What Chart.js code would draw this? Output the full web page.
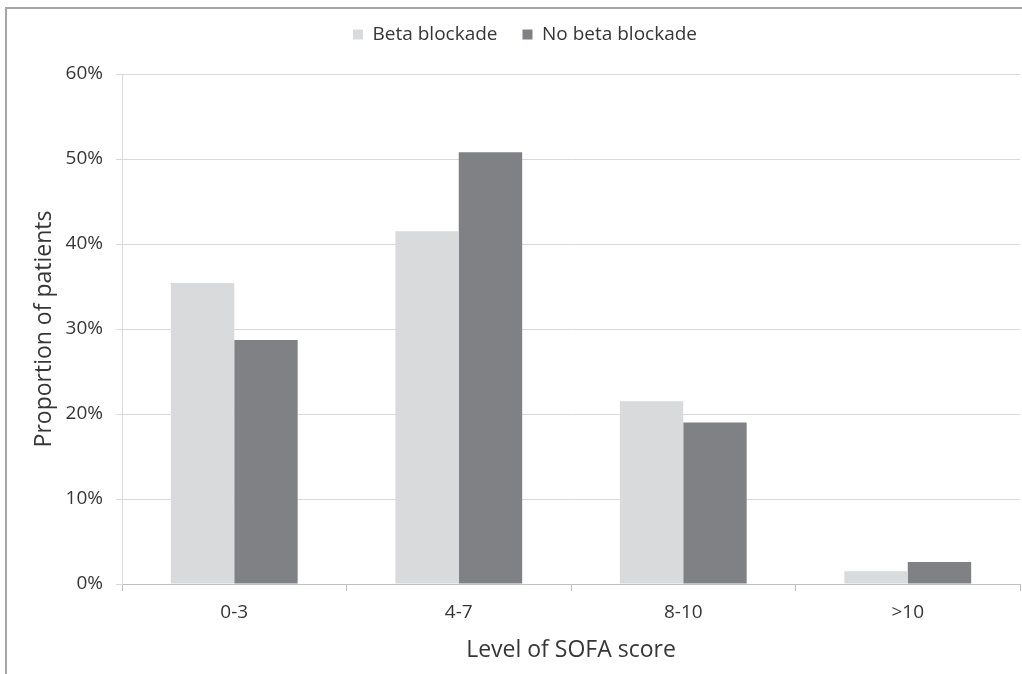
<!DOCTYPE html>
<html>
<head>
<meta charset="utf-8">
<script src="https://cdn.jsdelivr.net/npm/chart.js@4/dist/chart.umd.min.js"></script>
<style>
    body { margin: 0; background: #fff; }
    #wrap { position: relative; width: 1022px; height: 674px; overflow: hidden; }
    #frame { position: absolute; left: 5px; top: 7px; width: 1100px; height: 800px;
             border-left: 2px solid #a6a6a6; border-top: 2px solid #a6a6a6; }
    #chart { position: absolute; left: 0; top: 0; }
</style>
</head>
<body>
<div id="wrap">
    <div id="frame"></div>
    <canvas id="chart" width="1022" height="674"></canvas>
</div>
<script>
const categories = ['0-3', '4-7', '8-10', '>10'];
const betaBlockade = [35.4, 41.5, 21.5, 1.5];
const noBetaBlockade = [28.7, 50.8, 19.0, 2.6];
const yTicks = [0, 10, 20, 30, 40, 50, 60];

const textColor = '#363636';
const fontFamily = '"Open Sans", sans-serif';

// push the plot area down below the legend
const legendSpacer = {
    id: 'legendSpacer',
    beforeInit(chart) {
        const fit = chart.legend.fit;
        chart.legend.fit = function () {
            fit.call(this);
            this.height += 20;
        };
    }
};

new Chart(document.getElementById('chart'), {
    type: 'bar',
    data: {
        labels: categories,
        datasets: [
            { label: 'Beta blockade', data: betaBlockade, backgroundColor: '#d9dadc' },
            { label: 'No beta blockade', data: noBetaBlockade, backgroundColor: '#808185' }
        ]
    },
    options: {
        responsive: false,
        animation: false,
        layout: { padding: { left: 30, right: 2, top: 0, bottom: 0 } },
        datasets: { bar: { categoryPercentage: 0.565, barPercentage: 1.0 } },
        plugins: {
            legend: {
                position: 'top',
                labels: {
                    boxWidth: 10,
                    boxHeight: 10,
                    padding: 25,
                    color: textColor,
                    font: { family: fontFamily, size: 19 }
                }
            },
            tooltip: { enabled: false }
        },
        scales: {
            x: {
                afterFit: scale => { scale.height = 90; },
                grid: { drawOnChartArea: false, drawTicks: true, tickLength: 7, color: '#bfbfbf' },
                border: { color: '#bfbfbf' },
                ticks: { color: textColor, padding: 10, font: { family: fontFamily, size: 19 } },
                title: {
                    display: true,
                    text: 'Level of SOFA score',
                    color: textColor,
                    padding: { top: 0, bottom: 10 },
                    font: { family: fontFamily, size: 23 }
                }
            },
            y: {
                min: 0,
                max: 60,
                afterFit: scale => { scale.width = 92; },
                afterBuildTicks: scale => { scale.ticks = yTicks.map(v => ({ value: v })); },
                grid: { color: '#d9d9d9', tickLength: 6 },
                border: { color: '#d9d9d9' },
                ticks: {
                    color: textColor,
                    padding: 13,
                    font: { family: fontFamily, size: 19 },
                    callback: v => v + '%'
                },
                title: {
                    display: true,
                    text: 'Proportion of patients',
                    color: textColor,
                    padding: { top: 1, bottom: 0 },
                    font: { family: fontFamily, size: 23 }
                }
            }
        }
    },
    plugins: [legendSpacer]
});
</script>
</body>
</html>
